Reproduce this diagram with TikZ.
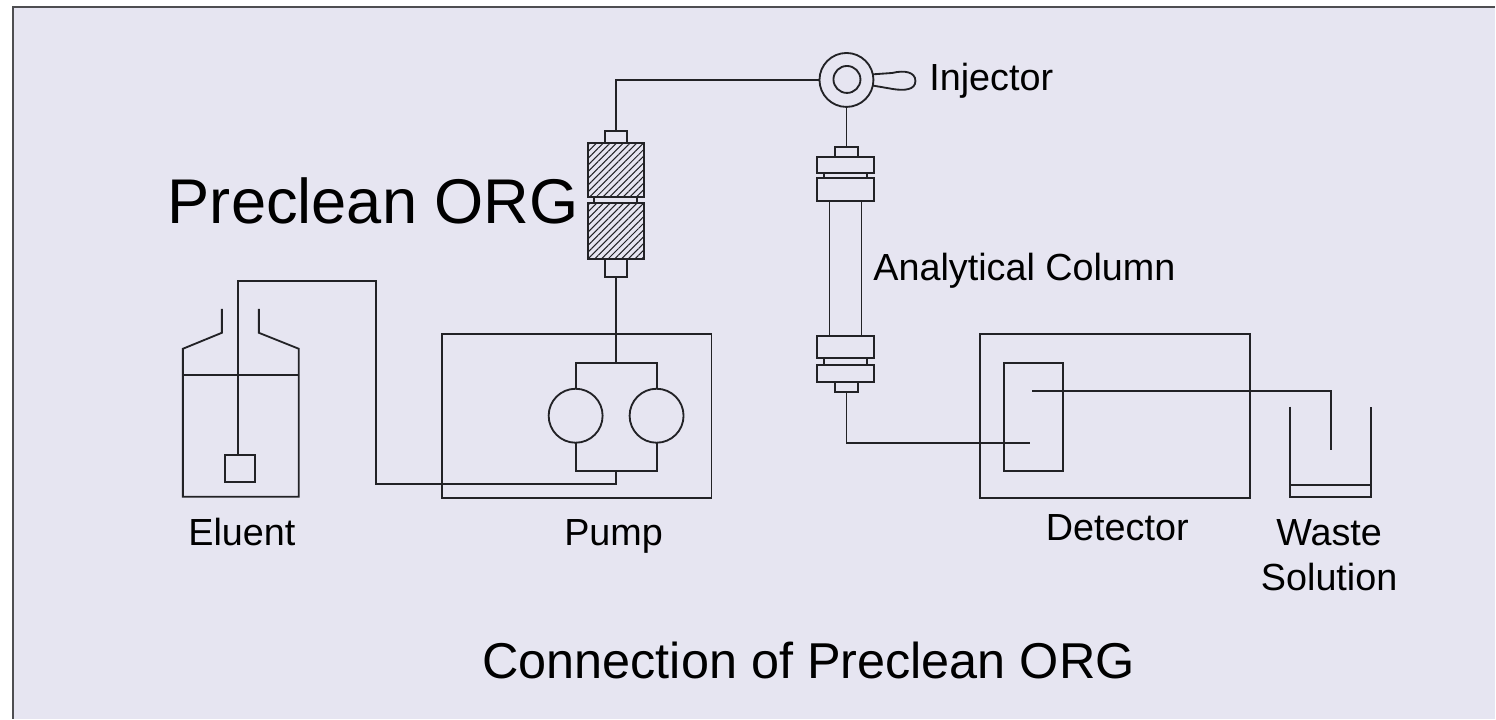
\documentclass[tikz,border=0pt]{standalone}
\usepackage{fontspec}
\setmainfont{Liberation Sans}
\usetikzlibrary{patterns.meta}
\definecolor{panel}{HTML}{E6E5F1}
\definecolor{ink}{HTML}{222226}
\def\u{0.02cm}

\begin{document}
\begin{tikzpicture}[
    x=0.02cm, y=-0.02cm,
    line width=1.05pt,
    ink,
    part/.style 2 args={draw=ink, minimum width=#1*\u, minimum height=#2*\u, inner sep=0pt, outer sep=0pt},
    hatched/.style={pattern={Lines[angle=45,distance=2.7pt,line width=0.6pt]}, pattern color=ink},
    pumphead/.style={draw=ink, fill=panel, circle, minimum size=54*\u, inner sep=0pt, outer sep=0pt},
    caption/.style={anchor=base, font=\fontsize{21.5}{25.5}\selectfont, text=black, inner sep=0pt},
    tube/.style={draw=ink}
]

% Background panel
\fill[white] (0,0) rectangle (1496,719);
\fill[panel] (13,7) rectangle (1496,719);
\draw[line width=1.1pt, draw=ink!80] (13,719) -- (13,7) -- (1496,7);

% Injector
\node[part={54}{54}, circle] (injector) at (847,80) {};
\node[part={27}{26}, circle] (rotor) at (847.5,79.5) {};
\draw (injector.12) -- (893,73) .. controls (905,70) and (916,72) .. (916,81) .. controls (916,90) and (905,91) .. (893,89) -- (injector.-12);

% Preclean cartridges
\node[part={22}{12}] (guardtop) at (616.5,137) {};
\node[part={56}{54}, hatched] (guardupper) at (616,170) {};
\node[part={43}{6}] (guardjoint) at (616,200) {};
\node[part={56}{56}, hatched] (guardlower) at (616,231) {};
\node[part={22}{18}] (guardbottom) at (616.5,268) {};

% Analytical column
\node[part={23}{10}] (coltop) at (847,152) {};
\node[part={57}{16}] (flangea) at (846,165) {};
\node[part={43}{5}] (jointa) at (846,175.5) {};
\node[part={57}{23}] (flangeb) at (846,189.5) {};
\node[part={32}{135}] (colbody) at (846,268.5) {};
\node[part={57}{22}] (flangec) at (846,347) {};
\node[part={43}{7}] (jointb) at (846,361.5) {};
\node[part={57}{17}] (flanged) at (846,373.5) {};
\node[part={23}{10}] (colbottom) at (847,387) {};

% Pump
\node[part={270}{164}] (pumpbox) at (577,416) {};
\node[part={81}{108}] (pumploop) at (616.5,417) {};
\node[pumphead] (headleft) at (576,416) {};
\node[pumphead] (headright) at (657,416) {};

% Detector
\node[part={270}{164}] (detector) at (1115.5,416) {};
\node[part={59}{108}] (cell) at (1034,417) {};

% Eluent bottle
\draw (222,309) -- (222,333) -- (183,349) -- (183,497) -- (299,497) -- (299,349) -- (259,333) -- (259,309);
\draw (183,375) -- (299,375);
\node[part={30}{27}] (filter) at (240,468.5) {};

% Waste beaker
\draw (1291,407) -- (1291,497) -- (1372,497) -- (1372,407);
\draw (1291,485) -- (1372,485);

% Tubing
\coordinate (riser) at (376,484);
\coordinate (overbottle) at (238,281);
\coordinate (cellin) at (1031,443);
\coordinate (cellout) at (1033,391);
\coordinate (wastedrop) at (1331.5,450);
\draw[tube] (filter.north -| overbottle) -- (overbottle) -| (riser) -| (pumploop.south);
\draw[tube] (guardbottom.south) -- (pumploop.north);
\draw[tube] (guardtop.north) |- (injector.west);
\draw[tube] (injector.south) -- (coltop.north);
\draw[tube] (colbottom.south) |- (cellin);
\draw[tube] (cellout) -| (wastedrop);

% Labels
\node[caption, anchor=base west] (injectorlabel) at (929,91) {Injector};
\node[caption, anchor=base west] (columnlabel) at (873,281) {Analytical Column};
\node[caption] (eluentlabel) at (242,546) {Eluent};
\node[caption] (pumplabel) at (614,546) {Pump};
\node[caption] (detectorlabel) at (1118,541) {Detector};
\node[caption] (wastelabel) at (1330,546) {Waste};
\node[caption] (solutionlabel) at (1330,591) {Solution};
\node[caption, anchor=base west, font=\fontsize{36}{40}\selectfont] (precleanlabel) at (167,224) {Preclean ORG};
\node[caption, font=\fontsize{28.7}{32}\selectfont] (titlelabel) at (809,679) {Connection of Preclean ORG};

\end{tikzpicture}
\end{document}
